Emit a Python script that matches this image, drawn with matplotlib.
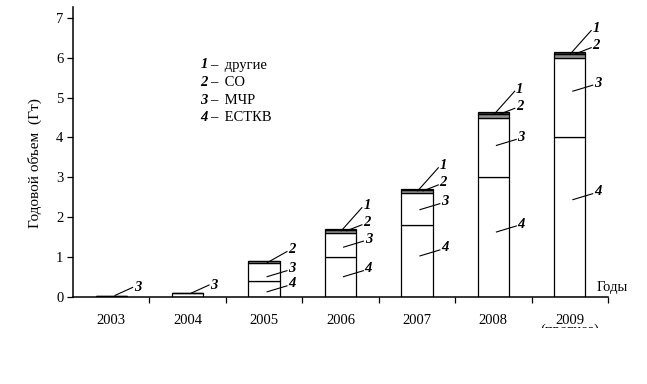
import matplotlib
matplotlib.use('Agg')
import matplotlib.pyplot as plt
from matplotlib.transforms import Bbox, TransformedBbox

plt.rcParams['font.family'] = ['Liberation Serif', 'DejaVu Serif']

# ===== данные (Гт) =====
years = ['2003', '2004', '2005', '2006', '2007', '2008', '2009']
estkv = [0.0, 0.0, 0.40, 1.00, 1.80, 3.00, 4.00]    # 4 - ЕСТКВ
mchr = [0.03, 0.10, 0.45, 0.60, 0.80, 1.48, 2.00]   # 3 - МЧР
co = [0.0, 0.0, 0.05, 0.07, 0.07, 0.10, 0.10]       # 2 - СО
other = [0.0, 0.0, 0.0, 0.04, 0.04, 0.05, 0.05]     # 1 - другие

# ===== где начинаются выноски для слоёв 3 и 4 =====
lead3 = [0.04, 0.10, 0.51, 1.25, 2.19, 3.80, 5.16]
lead4 = [None, None, 0.13, 0.51, 1.03, 1.63, 2.44]

fig = plt.figure(figsize=(6.47, 3.84), dpi=100)
ax = fig.add_axes([73 / 647, 87 / 384, 535 / 647, 290 / 384])

x = list(range(len(years)))
W = 0.41
kw = dict(width=W, edgecolor='black', linewidth=0.9, zorder=2)
ax.bar(x, estkv, color='white', **kw)
bot = estkv[:]
ax.bar(x, mchr, bottom=bot, color='white', **kw)
bot = [a + b for a, b in zip(bot, mchr)]
ax.bar(x, co, bottom=bot, color='#8c8c8c', **kw)
bot = [a + b for a, b in zip(bot, co)]
ax.bar(x, other, bottom=bot, color='#333333', **kw)
tops = [a + b for a, b in zip(bot, other)]

txt = dict(fontsize=10.5, style='italic', fontweight='bold', ha='center', va='center')
line = dict(color='black', lw=0.8, zorder=4)


def leader(x0, y0, x1, y1, s, dy=0.05):
    ax.plot([x0, x1], [y0, y1], **line)
    ax.text(x1 + 0.065, y1 + dy, s, **txt)


for i in x:
    T = tops[i]
    if i < 2:
        leader(i + 0.05, lead3[i], i + 0.28, lead3[i] + 0.2, '3', dy=0.0)
        continue
    leader(i + 0.04, lead3[i], i + 0.30, lead3[i] + 0.15, '3')
    leader(i + 0.04, lead4[i], i + 0.30, lead4[i] + 0.15, '4')
    if other[i] > 0:
        leader(i + 0.01, T - 0.05, i + 0.28, T + 0.53, '1')
        leader(i + 0.08, T - 0.05, i + 0.28, T + 0.10, '2')
    else:
        leader(i + 0.04, T - 0.04, i + 0.30, T + 0.24, '2')

# ===== оси =====
ax.set_xlim(-0.5, 6.5)
ax.set_ylim(0, 7.27)
ax.set_yticks(range(8))
ax.set_xticks(x)
ax.set_xticklabels(years)
ax.set_xticks([k + 0.5 for k in x], minor=True)
ax.tick_params(axis='x', which='major', length=0, pad=12, labelsize=10.5)
ax.tick_params(axis='x', which='minor', length=4, width=0.9, direction='out')
ax.tick_params(axis='y', length=4, width=0.9, direction='out', pad=3, labelsize=10.5)
for s in ['top', 'right']:
    ax.spines[s].set_visible(False)
for s in ['left', 'bottom']:
    ax.spines[s].set_linewidth(1.1)

# подпись "(прогноз)" срезана снизу, как в оригинале
t = ax.text(6, -0.83, '(прогноз)', ha='center', va='center', fontsize=10.5,
            transform=ax.transData, clip_on=True)
t.set_clip_box(TransformedBbox(Bbox([[0, 56 / 384], [1, 1]]), fig.transFigure))

ax.text(0.979, 0.034, 'Годы', transform=ax.transAxes, fontsize=10.5,
        ha='left', va='center')
fig.text(35 / 647, 1 - 163 / 384, 'Годовой объем  (Гт)', rotation=90,
         fontsize=11, ha='center', va='center')

# ===== легенда =====
legend_rows = [('1', 'другие'), ('2', 'СО'), ('3', 'МЧР'), ('4', 'ЕСТКВ')]
for k, (num, name) in enumerate(legend_rows):
    yy = (297 - (65 + 17.5 * k)) / 290
    ax.text(0.252, yy, num, transform=ax.transAxes, fontsize=10.5,
            style='italic', fontweight='bold', ha='right', va='center')
    ax.text(0.256, yy, '–  ' + name, transform=ax.transAxes, fontsize=10.5,
            ha='left', va='center')

fig.savefig('out.png', dpi=100, facecolor='white')
